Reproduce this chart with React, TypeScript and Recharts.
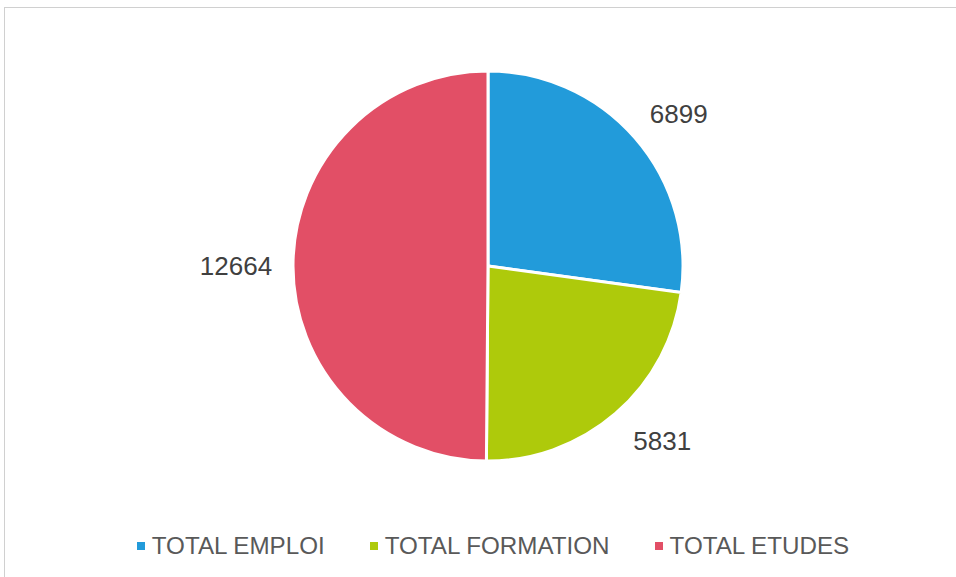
import React from "react";
import { PieChart, Pie, Cell, Legend } from "recharts";

const categories = ["TOTAL EMPLOI", "TOTAL FORMATION", "TOTAL ETUDES"];
const totals = [6899, 5831, 12664];
const colors = ["#229BDA", "#AECA0B", "#E24F66"];

const data = categories.map((name, i) => ({ name, value: totals[i] }));

// "best fit" label placement tweaks: angle nudge and distance past the rim
const labelTweak: Record<string, { da?: number; fixed?: number; gap: number }> = {
  "TOTAL EMPLOI": { da: -2.5, gap: 49 },
  "TOTAL FORMATION": { da: 4, gap: 52 },
  "TOTAL ETUDES": { fixed: 180, gap: 57 },
};
const RAD = Math.PI / 180;

const renderLabel = (props: any) => {
  const { cx, cy, midAngle, outerRadius, value, name } = props;
  const t = labelTweak[name];
  const ang = t.fixed ?? midAngle + (t.da ?? 0);
  const r = outerRadius + t.gap;
  const x = cx + r * Math.cos(-ang * RAD);
  const y = cy + r * Math.sin(-ang * RAD);
  return (
    <text
      x={x}
      y={y}
      fill="#404040"
      fontSize={26}
      textAnchor="middle"
      dominantBaseline="central"
    >
      {value}
    </text>
  );
};

// legend drawn in data order (recharts would sort it by name)
const renderLegend = () => (
  <div style={{ display: "flex", justifyContent: "center", gap: 45, paddingLeft: 30 }}>
    {categories.map((name, i) => (
      <div
        key={name}
        style={{ display: "flex", alignItems: "center", color: "#595959", fontSize: 24.2 }}
      >
        <span
          style={{
            width: 8,
            height: 8,
            background: colors[i],
            marginRight: 7,
            display: "inline-block",
          }}
        />
        {name}
      </div>
    ))}
  </div>
);

export default function App() {
  return (
    <div
      style={{
        position: "absolute",
        left: 0,
        top: 0,
        width: 956,
        height: 577,
        overflow: "hidden",
        background: "#fff",
        fontFamily: "'Liberation Sans', Arial, sans-serif",
      }}
    >
      <div style={{ position: "absolute", left: 0, top: 0 }}>
        <PieChart width={956} height={577} margin={{ top: 0, right: 0, bottom: 0, left: 0 }}>
          <Pie
            data={data}
            dataKey="value"
            nameKey="name"
            cx={488}
            cy={266}
            outerRadius={195}
            startAngle={90}
            endAngle={-270}
            stroke="#fff"
            strokeWidth={3}
            label={renderLabel}
            labelLine={false}
            isAnimationActive={false}
          >
            {data.map((d, i) => (
              <Cell key={d.name} fill={colors[i]} />
            ))}
          </Pie>
          <Legend
            content={renderLegend}
            wrapperStyle={{ position: "absolute", top: 532, left: 0, width: 956 }}
          />
        </PieChart>
      </div>
      <div
        style={{
          position: "absolute",
          left: 4,
          top: 7,
          width: 1000,
          height: 700,
          borderTop: "1px solid #d0d0d0",
          borderLeft: "1px solid #d0d0d0",
          pointerEvents: "none",
          zIndex: 2,
        }}
      />
    </div>
  );
}
